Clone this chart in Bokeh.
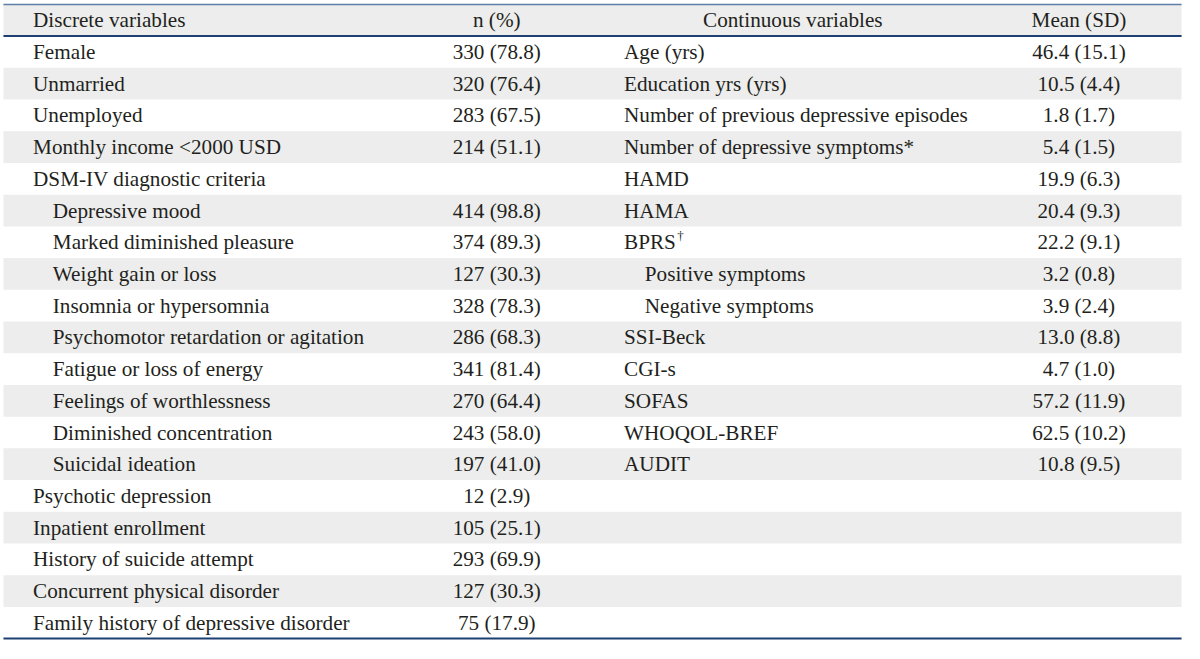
from bokeh.plotting import figure
from bokeh.models import ColumnDataSource, Range1d
from bokeh.core.properties import value
from bokeh.embed import file_html
from bokeh.resources import INLINE

# ---- data ----
header_left = ["Discrete variables", "n (%)"]
header_right = ["Continuous variables", "Mean (SD)"]

discrete_labels = [
    "Female", "Unmarried", "Unemployed", "Monthly income <2000 USD",
    "DSM-IV diagnostic criteria", "Depressive mood", "Marked diminished pleasure",
    "Weight gain or loss", "Insomnia or hypersomnia",
    "Psychomotor retardation or agitation", "Fatigue or loss of energy",
    "Feelings of worthlessness", "Diminished concentration", "Suicidal ideation",
    "Psychotic depression", "Inpatient enrollment", "History of suicide attempt",
    "Concurrent physical disorder", "Family history of depressive disorder",
]
discrete_values = [
    "330 (78.8)", "320 (76.4)", "283 (67.5)", "214 (51.1)", "",
    "414 (98.8)", "374 (89.3)", "127 (30.3)", "328 (78.3)", "286 (68.3)",
    "341 (81.4)", "270 (64.4)", "243 (58.0)", "197 (41.0)",
    "12 (2.9)", "105 (25.1)", "293 (69.9)", "127 (30.3)", "75 (17.9)",
]
discrete_indent = [0, 0, 0, 0, 0, 1, 1, 1, 1, 1, 1, 1, 1, 1, 0, 0, 0, 0, 0]

continuous_labels = [
    "Age (yrs)", "Education yrs (yrs)", "Number of previous depressive episodes",
    "Number of depressive symptoms*", "HAMD", "HAMA", "BPRS",
    "Positive symptoms", "Negative symptoms", "SSI-Beck", "CGI-s", "SOFAS",
    "WHOQOL-BREF", "AUDIT",
]
continuous_marks = ["", "", "", "", "", "", "\u2020", "", "", "", "", "", "", ""]
continuous_values = [
    "46.4 (15.1)", "10.5 (4.4)", "1.8 (1.7)", "5.4 (1.5)", "19.9 (6.3)",
    "20.4 (9.3)", "22.2 (9.1)", "3.2 (0.8)", "3.9 (2.4)", "13.0 (8.8)",
    "4.7 (1.0)", "57.2 (11.9)", "62.5 (10.2)", "10.8 (9.5)",
]
continuous_indent = [0, 0, 0, 0, 0, 0, 0, 1, 1, 0, 0, 0, 0, 0]

# ---- layout (x in reference pixels, y in row units) ----
X0, X1 = 3, 1197
COL_L = 33
COL_L_IND = 53
COL_N = 503
COL_R = 632
COL_R_IND = 653
COL_CONT_HDR = 803
COL_M = 1093
n_rows = 1 + max(len(discrete_labels), len(continuous_labels))
ROW_PX = 32.5

FONT = value("Liberation Serif")
FS = "21.2px"
TC = "#231f20"

p = figure(width=1184, height=643, x_range=Range1d(0, 1200),
           y_range=Range1d(n_rows + 5 / ROW_PX, -4 / ROW_PX),
           output_backend="svg", toolbar_location=None, min_border=0)
p.axis.visible = False
p.xgrid.visible = False
p.ygrid.visible = False
p.outline_line_color = None
p.background_fill_color = "white"
p.border_fill_color = "white"

# zebra stripes
stripe_rows = [i for i in range(n_rows) if i % 2 == 0]
p.quad(left=[X0] * len(stripe_rows), right=[X1] * len(stripe_rows),
       top=stripe_rows, bottom=[r + 1 for r in stripe_rows],
       fill_color="#ecedec", line_color=None)

# rules
p.segment(x0=[X0], y0=[0], x1=[X1], y1=[0], line_color="#5d7fa6", line_width=1.5)
p.segment(x0=[X0], y0=[1], x1=[X1], y1=[1], line_color="#1d3f72", line_width=2)
p.segment(x0=[X0], y0=[n_rows], x1=[X1], y1=[n_rows], line_color="#1d3f72", line_width=2)

def txt(xs, ys, ts, align):
    src = ColumnDataSource(dict(x=xs, y=ys, t=ts))
    p.text(x="x", y="y", text="t", source=src, text_font=FONT,
           text_font_size=FS, text_color=TC, text_baseline="middle",
           text_align=align)

# headers
txt([COL_L], [0.5], [header_left[0]], "left")
txt([COL_N, COL_CONT_HDR, COL_M], [0.5, 0.5, 0.5],
    [header_left[1], header_right[0], header_right[1]], "center")

# discrete
dy = [i + 1.5 for i in range(len(discrete_labels))]
txt([COL_L_IND if ind else COL_L for ind in discrete_indent], dy, discrete_labels, "left")
txt([COL_N] * len(discrete_values), dy, discrete_values, "center")

# continuous
cy = [i + 1.5 for i in range(len(continuous_labels))]
txt([COL_R_IND if ind else COL_R for ind in continuous_indent], cy, continuous_labels, "left")
txt([COL_M] * len(continuous_values), cy, continuous_values, "center")

# superscript marks
mk = [(cy[i], m) for i, m in enumerate(continuous_marks) if m]
src_m = ColumnDataSource(dict(x=[COL_R + 54] * len(mk), y=[a for a, _ in mk], t=[b for _, b in mk]))
p.text(x="x", y="y", text="t", source=src_m, text_font=FONT, text_font_size="13px",
       text_color=TC, text_baseline="middle", text_align="left", y_offset=-7)

open("out.html", "w").write(file_html(p, INLINE))
